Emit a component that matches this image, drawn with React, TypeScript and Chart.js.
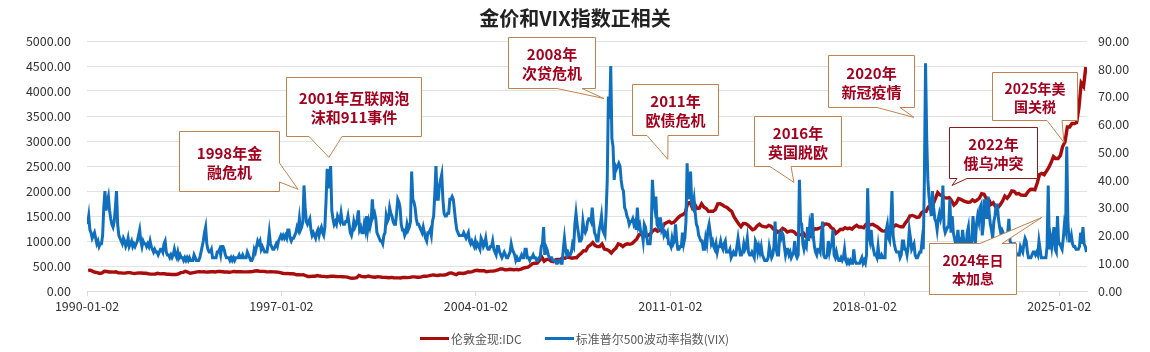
import React, { useEffect, useRef } from "react";
import { Chart, registerables } from "chart.js";

Chart.register(...registerables);

const startYear = 1990;
const xTickYears = [1990, 1997, 2004, 2011, 2018, 2025];
const leftTicks = { min: 0, max: 5000, step: 500 };
const rightTicks = { min: 0, max: 90, step: 10 };

// 伦敦金现 (monthly, USD/oz), one row per year 1990..2025
const goldPrice: number[][] = [
  [410, 417, 393, 374, 369, 352, 362, 395, 389, 381, 381, 378],
  [384, 364, 363, 358, 357, 367, 368, 356, 349, 358, 360, 361],
  [354, 354, 345, 338, 337, 341, 353, 343, 345, 344, 335, 334],
  [329, 330, 331, 342, 367, 372, 392, 379, 355, 364, 373, 383],
  [387, 382, 384, 377, 381, 386, 385, 380, 391, 389, 384, 379],
  [379, 376, 382, 391, 385, 387, 386, 383, 383, 383, 386, 387],
  [400, 405, 396, 393, 392, 385, 383, 387, 383, 381, 378, 369],
  [355, 347, 352, 344, 344, 341, 324, 324, 323, 325, 306, 289],
  [289, 297, 296, 308, 299, 292, 293, 284, 289, 296, 294, 291],
  [287, 288, 286, 282, 277, 262, 256, 257, 265, 311, 293, 284],
  [285, 300, 286, 280, 275, 286, 282, 275, 273, 270, 266, 272],
  [266, 262, 263, 261, 272, 270, 268, 273, 283, 283, 276, 276],
  [282, 296, 294, 302, 314, 322, 314, 310, 319, 317, 319, 333],
  [357, 359, 340, 328, 355, 356, 351, 360, 379, 379, 389, 407],
  [414, 405, 406, 404, 384, 392, 398, 400, 406, 420, 439, 442],
  [424, 423, 434, 429, 422, 431, 424, 438, 456, 470, 476, 510],
  [549, 555, 557, 610, 676, 596, 633, 632, 598, 586, 628, 629],
  [631, 665, 655, 679, 667, 655, 665, 665, 713, 754, 806, 803],
  [889, 922, 968, 909, 888, 890, 940, 839, 829, 806, 760, 816],
  [858, 943, 924, 890, 928, 945, 934, 949, 996, 1043, 1127, 1135],
  [1118, 1095, 1113, 1148, 1205, 1233, 1193, 1215, 1271, 1343, 1370, 1391],
  [1356, 1372, 1424, 1473, 1510, 1529, 1572, 1756, 1772, 1665, 1739, 1652],
  [1656, 1743, 1675, 1649, 1591, 1598, 1594, 1630, 1744, 1747, 1722, 1688],
  [1670, 1628, 1593, 1487, 1414, 1343, 1286, 1352, 1349, 1316, 1275, 1225],
  [1244, 1300, 1337, 1299, 1287, 1279, 1311, 1296, 1239, 1222, 1176, 1201],
  [1251, 1227, 1179, 1198, 1199, 1181, 1131, 1118, 1125, 1157, 1086, 1068],
  [1097, 1200, 1246, 1242, 1260, 1276, 1337, 1341, 1326, 1267, 1236, 1152],
  [1192, 1234, 1231, 1266, 1246, 1260, 1236, 1283, 1314, 1280, 1283, 1265],
  [1331, 1331, 1325, 1335, 1303, 1282, 1238, 1202, 1198, 1215, 1221, 1250],
  [1291, 1320, 1300, 1285, 1284, 1359, 1413, 1500, 1511, 1495, 1471, 1480],
  [1560, 1597, 1591, 1683, 1715, 1732, 1847, 1968, 1921, 1900, 1866, 1858],
  [1867, 1808, 1718, 1760, 1850, 1834, 1807, 1785, 1775, 1777, 1821, 1790],
  [1817, 1856, 1948, 1937, 1849, 1836, 1733, 1765, 1681, 1665, 1726, 1798],
  [1898, 1855, 1913, 2000, 1992, 1943, 1951, 1918, 1916, 1916, 1985, 2030],
  [2034, 2024, 2159, 2331, 2351, 2326, 2399, 2472, 2570, 2690, 2650, 2650],
  [2710, 2895, 2980, 3280, 3280, 3350, 3350, 3370, 3660, 4160, 4090, 4480],
];

// 标准普尔500波动率指数 (two readings per month), one row per year 1990..2025
const vixIndex: number[][] = [
  [24, 27, 22, 21, 19, 20, 21, 19, 17, 18, 16, 17, 17, 20, 30, 36, 29, 32, 34, 29, 26, 24, 23, 25],
  [30, 36, 24, 20, 19, 18, 17, 19, 18, 16, 17, 19, 16, 17, 18, 16, 17, 16, 17, 18, 20, 22, 18, 16],
  [18, 17, 17, 16, 17, 16, 18, 16, 15, 14, 15, 14, 14, 13, 14, 15, 15, 14, 17, 18, 14, 13, 13, 12],
  [13, 12, 13, 15, 13, 12, 14, 12, 13, 12, 12, 11, 12, 11, 12, 11, 12, 11, 11, 11, 13, 12, 11, 11],
  [11, 12, 14, 16, 18, 21, 23, 17, 15, 14, 14, 15, 12, 12, 12, 12, 14, 14, 15, 13, 16, 16, 15, 13],
  [12, 12, 12, 11, 12, 11, 12, 11, 12, 12, 12, 13, 12, 12, 13, 12, 12, 12, 14, 13, 12, 11, 11, 12],
  [15, 14, 16, 18, 17, 18, 15, 16, 15, 14, 14, 14, 17, 21, 17, 16, 15, 15, 16, 17, 16, 18, 19, 20],
  [19, 20, 19, 20, 19, 22, 22, 19, 18, 19, 19, 20, 21, 23, 22, 26, 22, 23, 25, 38, 30, 25, 24, 25],
  [26, 22, 20, 21, 20, 19, 21, 22, 20, 22, 23, 21, 20, 23, 32, 44, 37, 40, 45, 29, 26, 24, 25, 24],
  [27, 26, 25, 28, 25, 24, 24, 25, 25, 27, 24, 21, 20, 22, 25, 23, 24, 26, 29, 22, 23, 21, 21, 24],
  [22, 27, 22, 25, 23, 25, 33, 27, 28, 26, 21, 20, 19, 18, 18, 17, 20, 21, 27, 25, 26, 30, 28, 27],
  [25, 24, 24, 28, 33, 32, 30, 24, 22, 22, 20, 21, 24, 22, 23, 25, 43, 33, 32, 30, 26, 24, 24, 23],
  [22, 21, 23, 21, 19, 18, 21, 21, 22, 20, 25, 27, 35, 45, 33, 33, 38, 40, 42, 33, 28, 27, 27, 28],
  [28, 33, 33, 34, 33, 29, 25, 22, 21, 20, 20, 20, 20, 21, 20, 19, 20, 21, 18, 17, 18, 17, 16, 18],
  [16, 17, 16, 15, 19, 18, 16, 17, 19, 16, 15, 15, 16, 16, 18, 15, 14, 13, 16, 16, 14, 13, 12, 13],
  [14, 13, 12, 12, 13, 14, 17, 15, 14, 13, 11, 12, 11, 11, 12, 13, 12, 12, 15, 15, 12, 12, 11, 12],
  [12, 13, 12, 12, 11, 11, 12, 12, 16, 17, 23, 13, 16, 15, 13, 12, 12, 12, 11, 11, 11, 10, 10, 11],
  [11, 10, 10, 15, 19, 15, 13, 14, 13, 13, 14, 17, 16, 24, 28, 24, 21, 18, 18, 19, 25, 22, 21, 22],
  [25, 26, 26, 25, 30, 25, 21, 20, 18, 18, 22, 24, 27, 22, 21, 20, 28, 40, 70, 62, 81, 55, 52, 40],
  [45, 44, 45, 46, 45, 40, 37, 36, 30, 29, 27, 26, 24, 25, 25, 26, 24, 25, 22, 30, 23, 24, 21, 21],
  [18, 24, 23, 20, 17, 17, 17, 22, 40, 33, 30, 34, 24, 23, 26, 26, 22, 23, 20, 21, 20, 21, 17, 17],
  [16, 19, 17, 18, 24, 18, 15, 15, 16, 16, 21, 17, 19, 25, 46, 33, 38, 43, 31, 30, 33, 28, 24, 23],
  [20, 19, 18, 18, 15, 15, 19, 17, 22, 24, 21, 17, 18, 16, 15, 17, 14, 16, 16, 18, 16, 15, 17, 18],
  [14, 14, 14, 15, 12, 13, 14, 13, 13, 16, 19, 16, 13, 13, 14, 17, 15, 16, 19, 14, 13, 13, 14, 13],
  [12, 18, 17, 14, 16, 14, 16, 13, 12, 11, 11, 11, 12, 16, 14, 12, 13, 16, 25, 15, 13, 13, 20, 19],
  [21, 20, 16, 13, 15, 15, 13, 14, 12, 13, 14, 18, 13, 12, 13, 40, 25, 24, 17, 15, 17, 16, 23, 18],
  [24, 22, 28, 20, 16, 14, 13, 15, 15, 14, 20, 25, 13, 12, 12, 13, 18, 14, 16, 17, 22, 13, 12, 14],
  [12, 11, 11, 12, 11, 12, 15, 11, 10, 11, 10, 11, 10, 10, 15, 11, 10, 10, 10, 10, 11, 12, 10, 11],
  [10, 13, 37, 20, 18, 22, 17, 15, 13, 13, 12, 16, 12, 12, 13, 12, 12, 12, 22, 24, 19, 18, 25, 36],
  [20, 17, 15, 14, 14, 14, 12, 13, 18, 18, 15, 15, 13, 16, 22, 19, 15, 16, 17, 13, 12, 12, 13, 14],
  [14, 18, 15, 40, 82, 55, 40, 34, 30, 27, 36, 30, 26, 25, 22, 26, 28, 26, 28, 38, 23, 21, 22, 23],
  [23, 33, 21, 27, 21, 19, 17, 18, 22, 17, 18, 16, 22, 18, 17, 16, 21, 23, 16, 16, 18, 27, 21, 17],
  [24, 27, 25, 30, 31, 20, 24, 33, 30, 26, 34, 28, 24, 22, 19, 25, 27, 31, 31, 26, 23, 21, 22, 21],
  [19, 19, 19, 21, 26, 18, 17, 15, 17, 17, 14, 13, 13, 13, 16, 15, 14, 17, 19, 18, 14, 12, 12, 12],
  [13, 14, 14, 13, 14, 13, 18, 15, 12, 12, 12, 12, 12, 16, 38, 15, 19, 16, 20, 23, 15, 14, 27, 17],
  [17, 16, 15, 19, 24, 22, 52, 25, 18, 18, 20, 17, 16, 16, 15, 15, 15, 16, 21, 17, 23, 17, 16, 14],
];

const seriesNames = ["伦敦金现:IDC", "标准普尔500波动率指数(VIX)"];
const seriesColors = ["#a80c0c", "#1070bd"];

type Ann = {
  lines: string[];
  box: [number, number, number, number]; // left, top, right, bottom (px)
  edge: "bottom" | "right" | "top";
  base: [number, number];
  tip: [number, number]; // [year, vix]
  border: string;
  size: number;
};

const annotations: Ann[] = [
  { lines: ["1998年金", "融危机"], box: [179, 131, 279, 191], edge: "right", base: [163, 182], tip: [1997.6, 36.6], border: "#c0834f", size: 15 },
  { lines: ["2001年互联网泡", "沫和911事件"], box: [286, 77, 421, 136], edge: "bottom", base: [309, 342], tip: [1998.71, 48.1], border: "#c0834f", size: 15 },
  { lines: ["2008年", "次贷危机"], box: [508, 37, 595, 88], edge: "bottom", base: [557, 582], tip: [2008.61, 69.3], border: "#c0834f", size: 15 },
  { lines: ["2011年", "欧债危机"], box: [632, 84, 718, 135], edge: "bottom", base: [647, 668], tip: [2010.91, 47.4], border: "#c0834f", size: 15 },
  { lines: ["2016年", "英国脱欧"], box: [754, 116, 841, 166], edge: "bottom", base: [770, 791], tip: [2015.45, 39.1], border: "#c0834f", size: 15 },
  { lines: ["2020年", "新冠疫情"], box: [828, 55, 914, 107], edge: "bottom", base: [877, 900], tip: [2019.77, 62.5], border: "#c0834f", size: 15 },
  { lines: ["2022年", "俄乌冲突"], box: [949, 127, 1037, 178], edge: "bottom", base: [957, 967], tip: [2021.14, 38.0], border: "#8b1c1c", size: 15 },
  { lines: ["2024年日", "本加息"], box: [929, 243, 1016, 294], edge: "top", base: [980, 1002], tip: [2024.38, 26.5], border: "#c0834f", size: 14 },
  { lines: ["2025年美", "国关税"], box: [992, 72, 1077, 120], edge: "bottom", base: [1047, 1062], tip: [2025.17, 53.5], border: "#c0834f", size: 14 },
];

const FONT = "'Noto Sans CJK SC', 'Noto Sans', sans-serif";

const calloutPlugin = {
  id: "callouts",
  afterDraw(chart: any) {
    const { ctx, scales } = chart;
    const xs = scales.x;
    const ys = scales.y1;
    ctx.save();
    for (const a of annotations) {
      const [L, T, R, B] = a.box.map((v) => Math.round(v) + 0.5);
      const tx = xs.getPixelForValue(a.tip[0]);
      const ty = ys.getPixelForValue(a.tip[1]);
      const [b1, b2] = a.base;
      ctx.beginPath();
      if (a.edge === "bottom") {
        ctx.moveTo(L, T); ctx.lineTo(R, T); ctx.lineTo(R, B); ctx.lineTo(b2, B);
        ctx.lineTo(tx, ty); ctx.lineTo(b1, B); ctx.lineTo(L, B);
      } else if (a.edge === "right") {
        ctx.moveTo(L, T); ctx.lineTo(R, T); ctx.lineTo(R, b1); ctx.lineTo(tx, ty);
        ctx.lineTo(R, b2); ctx.lineTo(R, B); ctx.lineTo(L, B);
      } else {
        ctx.moveTo(L, T); ctx.lineTo(b1, T); ctx.lineTo(tx, ty); ctx.lineTo(b2, T);
        ctx.lineTo(R, T); ctx.lineTo(R, B); ctx.lineTo(L, B);
      }
      ctx.closePath();
      ctx.fillStyle = "#ffffff";
      ctx.fill();
      ctx.lineWidth = 1;
      ctx.strokeStyle = a.border;
      ctx.stroke();
      ctx.fillStyle = "#a3001e";
      ctx.font = `bold ${a.size}px ${FONT}`;
      ctx.textAlign = "center";
      ctx.textBaseline = "middle";
      const cx = (L + R) / 2;
      const cy = (T + B) / 2;
      const lh = a.size + 4;
      a.lines.forEach((s, i) => {
        ctx.fillText(s, cx, cy + (i - (a.lines.length - 1) / 2) * lh + 1);
      });
    }
    ctx.restore();
  },
};

export default function App() {
  const ref = useRef<HTMLCanvasElement | null>(null);

  useEffect(() => {
    if (!ref.current) return;
    const goldData = goldPrice.flatMap((row, yi) =>
      row.map((v, m) => ({ x: startYear + yi + (m + 0.5) / row.length, y: v }))
    );
    const vixData = vixIndex.flatMap((row, yi) =>
      row.map((v, k) => ({ x: startYear + yi + (k + 0.5) / row.length, y: v }))
    );
    const chart = new Chart(ref.current, {
      type: "line",
      data: {
        datasets: [
          {
            label: seriesNames[0],
            data: goldData,
            yAxisID: "y",
            borderColor: seriesColors[0],
            backgroundColor: seriesColors[0],
            borderWidth: 3.4,
            pointRadius: 0,
            tension: 0,
            order: 2,
          },
          {
            label: seriesNames[1],
            data: vixData,
            yAxisID: "y1",
            borderColor: seriesColors[1],
            backgroundColor: seriesColors[1],
            borderWidth: 3,
            pointRadius: 0,
            tension: 0,
            order: 1,
          },
        ],
      },
      options: {
        responsive: false,
        animation: false,
        parsing: false as any,
        layout: { padding: { top: 41, bottom: 0, left: 0, right: 0 } },
        plugins: {
          legend: { display: false },
          title: { display: false },
          tooltip: { enabled: false },
        },
        scales: {
          x: {
            type: "linear",
            min: startYear,
            max: 2026,
            afterBuildTicks: (s: any) => {
              s.ticks = xTickYears.map((v) => ({ value: v }));
            },
            afterFit: (s: any) => {
              s.height = 61;
            },
            ticks: {
              autoSkip: false,
              maxRotation: 0,
              padding: 3,
              color: "#333333",
              font: { family: FONT, size: 12.5 },
              callback: (v: any) => `${v}-01-02`,
            },
            grid: {
              display: true,
              drawOnChartArea: false,
              drawTicks: true,
              tickLength: 5,
              color: "#d9d9d9",
            },
            border: { display: true, color: "#d9d9d9" },
          },
          y: {
            position: "left",
            min: leftTicks.min,
            max: leftTicks.max,
            afterFit: (s: any) => {
              s.width = 87;
            },
            ticks: {
              stepSize: leftTicks.step,
              padding: 16,
              color: "#333333",
              font: { family: FONT, size: 12.5 },
              callback: (v: any) => Number(v).toFixed(2),
            },
            grid: { color: "#e2e2e2", drawTicks: false },
            border: { display: false },
          },
          y1: {
            position: "right",
            min: rightTicks.min,
            max: rightTicks.max,
            afterFit: (s: any) => {
              s.width = 63;
            },
            ticks: {
              stepSize: rightTicks.step,
              padding: 11,
              color: "#333333",
              font: { family: FONT, size: 12.5 },
              callback: (v: any) => Number(v).toFixed(2),
            },
            grid: { drawOnChartArea: false, drawTicks: false },
            border: { display: false },
          },
        },
      },
      plugins: [calloutPlugin],
    });
    return () => chart.destroy();
  }, []);

  return (
    <div
      style={{
        position: "absolute",
        left: 0,
        top: 0,
        width: 1150,
        height: 352,
        background: "#ffffff",
        fontFamily: FONT,
        overflow: "hidden",
      }}
    >
      <canvas ref={ref} width={1150} height={352} style={{ position: "absolute", left: 0, top: 0 }} />
      <div
        style={{
          position: "absolute",
          left: 0,
          width: 1150,
          top: 5,
          textAlign: "center",
          fontSize: 20,
          fontWeight: 700,
          color: "#222222",
          lineHeight: "26px",
        }}
      >
        金价和VIX指数正相关
      </div>
      <div
        style={{
          position: "absolute",
          left: 420,
          top: 330,
          height: 16,
          display: "flex",
          alignItems: "center",
          fontSize: 12,
          color: "#595959",
          whiteSpace: "nowrap",
        }}
      >
        <span style={{ display: "inline-block", width: 29, height: 3, background: seriesColors[0], marginRight: 2 }} />
        <span>{seriesNames[0]}</span>
        <span style={{ display: "inline-block", width: 29, height: 3, background: seriesColors[1], marginLeft: 23, marginRight: 2 }} />
        <span>{seriesNames[1]}</span>
      </div>
    </div>
  );
}
